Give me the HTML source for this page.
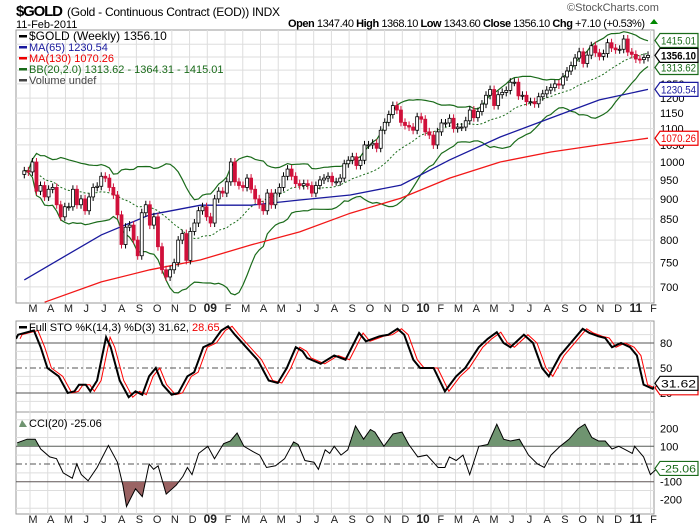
<!DOCTYPE html>
<html><head><meta charset="utf-8"><style>
body{margin:0;background:#fff;}
svg{display:block;font-family:"Liberation Sans",sans-serif;}
</style></head><body>
<svg id="c" width="700" height="530">
<text x="16" y="16" font-size="15" font-weight="bold" textLength="47">$GOLD</text>
<text x="67" y="16" font-size="12" textLength="213">(Gold - Continuous Contract (EOD)) INDX</text>
<text x="16" y="28" font-size="11">11-Feb-2011</text>
<text x="567" y="11" font-size="11" fill="#555">©StockCharts.com</text>
<text x="288" y="27" font-size="11" textLength="357"><tspan font-weight="bold">Open</tspan> 1347.40 <tspan font-weight="bold">High</tspan> 1368.10 <tspan font-weight="bold">Low</tspan> 1343.60 <tspan font-weight="bold">Close</tspan> 1356.10 <tspan font-weight="bold">Chg</tspan> +7.10 (+0.53%)</text>
<path d="M650 24 L654 19 L658 24 Z" fill="#080"/>
<g id="g"></g>
</svg>
<script>
const closes=[975,972,1000,920,935,905,925,930,885,855,880,880,925,885,900,870,905,930,933,960,955,930,910,860,790,830,835,800,765,865,885,835,855,785,735,720,735,750,800,815,755,820,840,870,
880,855,840,900,920,915,945,1000,945,935,930,955,925,900,885,870,915,885,915,930,960,980,960,940,935,940,935,915,935,950,955,960,945,945,955,995,1005,1015,990,1005,1050,1050,1055,1040,1095,1120,1145,1175,1160,1120,1110,1105,
1095,1138,1130,1090,1080,1050,1090,1118,1118,1133,1100,1105,1105,1125,1160,1135,1155,1180,1210,1230,1175,1212,1220,1227,1256,1256,1208,1210,1188,1188,1181,1205,1215,1228,1237,1250,1246,1275,1297,1317,1346,1370,1325,1357,1394,1366,1352,1363,1406,1385,1378,1380,1421,
1369,1360,1342,1340,1348,1356.1];
const ma65Week=[0,19,31,43.5,56,68,80.5,93,105,117.5,130,142,154];
const ma65Val=[714,812,860,884,884,897,910,936,1006,1074,1134,1194,1230.5];
const ma130Week=[5,19,31,43.5,56,68,80.5,93,105,117.5,130,142,154];
const ma130Val=[670,710,735,756,789,819,864,902,955,1000,1029,1050,1070.3];
const monthLabels=["M","A","M","J","J","A","S","O","N","D","09","F","M","A","M","J","J","A","S","O","N","D","10","F","M","A","M","J","J","A","S","O","N","D","11","F"];
const priceTicks=[700,750,800,850,900,950,1000,1050,1100,1150,1200,1250];
const stoZx=[0,40,75,90,105,130,150,165,175,190,200,215,235,245,265,285,300,315,330,345,360,380,395,415,430,450,470,490,505,520,550,570,595,615,635,655,670,680,710,740,765,795,810,840,860,880,895,915,930,960,985,1010,1030,1060,1080,1100,1115,1130,1160,1180,1200,1215,1240,1290,1305,1325,1340,1355,1375,1395,1410,1425,1445,1455];
const stoK=[85,90,95,75,50,40,20,22,30,30,22,35,87,75,35,15,22,18,40,50,30,18,20,40,45,75,80,95,100,90,72,60,35,32,50,75,70,62,55,65,60,92,82,88,90,97,90,60,50,50,22,40,50,75,85,93,80,75,90,80,50,40,65,97,92,88,86,75,80,75,65,30,25,31.6];
const cciZx=[38,60,78,90,110,125,140,160,170,180,195,215,240,260,272,280,300,315,330,340,350,368,390,405,415,425,440,460,475,495,510,525,540,560,575,590,610,630,650,660,675,695,705,720,730,740,755,770,787,805,820,830,850,870,890,905,925,945,970,985,995,1010,1025,1040,1060,1080,1100,1115,1130,1150,1170,1190,1205,1220,1240,1260,1280,1295,1310,1325,1340,1355,1370,1385,1400,1405,1425,1440,1455];
const cciVal=[120,140,140,85,40,30,-50,-80,0,-60,-95,-20,105,10,-120,-240,-140,-185,0,-30,-10,-170,-120,-70,-20,-60,60,100,30,115,130,175,100,70,50,-20,-10,30,125,110,20,10,-30,80,60,100,50,80,215,140,195,180,100,170,180,110,40,50,-20,-20,40,20,50,-60,100,110,225,140,130,140,50,0,-20,50,100,140,200,225,150,130,130,85,100,80,60,100,40,-60,-25];

const NS='http://www.w3.org/2000/svg';
const G=document.getElementById('g');
function el(tag,attrs,parent){const e=document.createElementNS(NS,tag);for(const k in attrs)e.setAttribute(k,attrs[k]);(parent||G).appendChild(e);return e;}
const L=16,R=654;
const N=closes.length;
const xw=w=>648-(N-1-w)*4.05;
const xz=zx=>Math.max(L,zx/2.214);
const py=p=>162-350*Math.log(p/1000);
const sy=v=>393-(v-20)*50/60;
const cy=v=>464-v*0.177;
const mx=m=>33+17.73*m;

const panels=[[30,303,'price-panel'],[321,412,'sto-panel'],[412,514,'cci-panel']];
panels.forEach(p=>{const r=el('rect',{x:L,y:p[0],width:R-L,height:p[1]-p[0],fill:'#fff',stroke:'#999'});});
monthLabels.forEach((m,i)=>{const x=mx(i)-3;panels.forEach(p=>{const l=el('line',{x1:x,x2:x,y1:p[0],y2:p[1],stroke:'#ddd'});});
 [312,523].forEach(y=>{const t=el('text',{x:mx(i),y:y,'font-size':(m.length>1?12:11),'font-weight':(m.length>1?'bold':'normal'),'text-anchor':'middle',fill:'#222'});t.textContent=m;});});
priceTicks.concat([1300,1350,1400]).forEach(p=>{const l=el('line',{x1:L,x2:R,y1:py(p),y2:py(p),stroke:'#ddd'});});
priceTicks.forEach(p=>{const t=el('text',{x:660,y:py(p)+4,'font-size':11});t.textContent=p;});
for(let v=10;v<100;v+=10){if(v==20||v==50||v==80)continue;const l=el('line',{x1:L,x2:R,y1:sy(v),y2:sy(v),stroke:'#ddd'});}
[[20,'solid'],[80,'solid'],[50,'dash']].forEach(a=>{const l=el('line',{x1:L,x2:R,y1:sy(a[0]),y2:sy(a[0]),stroke:'#555','stroke-dasharray':a[1]=='dash'?'6,3,2,3':'none'});const t=el('text',{x:660,y:sy(a[0])+4,'font-size':11});t.textContent=a[0];});
for(let v=-250;v<=250;v+=50){if(v%100==0)continue;const l=el('line',{x1:L,x2:R,y1:cy(v),y2:cy(v),stroke:'#ddd'});}
[[100,'solid'],[-100,'solid'],[0,'dash']].forEach(a=>{const l=el('line',{x1:L,x2:R,y1:cy(a[0]),y2:cy(a[0]),stroke:'#555','stroke-dasharray':a[1]=='dash'?'6,3,2,3':'none'});});
[200,100,-100,-200].forEach(v=>{const t=el('text',{x:660,y:cy(v)+4,'font-size':11});t.textContent=v;});

const defs=el('defs',{});
const cp=el('clipPath',{id:'cm'},defs);el('rect',{x:L,y:30,width:R-L,height:273},cp);
const cs=el('clipPath',{id:'cs'},defs);el('rect',{x:L,y:321,width:R-L,height:91},cs);
const ca=el('clipPath',{id:'ca'},defs);el('rect',{x:L,y:412,width:R-L,height:cy(100)-412},ca);
const cb=el('clipPath',{id:'cb'},defs);el('rect',{x:L,y:cy(-100),width:R-L,height:514-cy(-100)},cb);
const MG=el('g',{'clip-path':'url(#cm)'});

const mid=[],up=[],lo=[];
for(let i=0;i<N;i++){const s=closes.slice(Math.max(0,i-19),i+1);const m=s.reduce((a,b)=>a+b,0)/s.length;const sd=Math.sqrt(s.reduce((a,b)=>a+(b-m)*(b-m),0)/s.length);mid.push(m);up.push(m+2*sd);lo.push(m-2*sd);}
function poly(arr,name,attrs){const d=arr.map((v,i)=>(i?'L':'M')+xw(i).toFixed(1)+' '+py(v).toFixed(1)).join(' ');const p=el('path',Object.assign({d:d,fill:'none'},attrs),MG);}
poly(up,'bb-upper',{stroke:'#1a6b1a','stroke-width':1.2});
poly(lo,'bb-lower',{stroke:'#1a6b1a','stroke-width':1.2});
poly(mid,'bb-middle',{stroke:'#1a6b1a','stroke-dasharray':'2,2'});
function wline(ws,vs,name,color){const d=ws.map((w,i)=>(i?'L':'M')+xw(w).toFixed(1)+' '+py(vs[i]).toFixed(1)).join(' ');const p=el('path',{d:d,fill:'none',stroke:color,'stroke-width':1.3},MG);}
wline(ma65Week,ma65Val,'ma65-line','#1a1a9e');
wline(ma130Week,ma130Val,'ma130-line','#f21818');
for(let i=0;i<N;i++){const c=closes[i],o=i?closes[i-1]:c*0.99;const x=xw(i);const hi=Math.max(o,c),lw=Math.min(o,c);const down=c<o;const col=down?'#d0103a':'#000';
 const w=el('line',{x1:x,x2:x,y1:py(hi)-4,y2:py(lw)+4,stroke:col},MG);
 const b=el('rect',{x:x-1.5,y:py(hi),width:3,height:Math.max(1,py(lw)-py(hi)),fill:down?col:'#fff',stroke:col,'stroke-width':0.8},MG);}

function zline(zxs,vs,f,name,attrs,dx){const d=zxs.map((z,i)=>(i?'L':'M')+(xz(z)+(dx||0)).toFixed(1)+' '+f(vs[i]).toFixed(1)).join(' ');const p=el('path',Object.assign({d:d,fill:'none'},attrs));return d;}
zline(stoZx,stoK,sy,'sto-d-line',{stroke:'#f00','stroke-width':1,'clip-path':'url(#cs)'},4);
zline(stoZx,stoK,sy,'sto-k-line',{stroke:'#000','stroke-width':2,'clip-path':'url(#cs)'});
const cd=cciZx.map((z,i)=>(i?'L':'M')+xz(z).toFixed(1)+' '+cy(cciVal[i]).toFixed(1)).join(' ');
const x0=xz(cciZx[0]),x1=xz(cciZx[cciZx.length-1]);
const fa=el('path',{d:cd+' L'+x1+' '+cy(100)+' L'+x0+' '+cy(100)+' Z',fill:'#6f9470','clip-path':'url(#ca)'});
const fb=el('path',{d:cd+' L'+x1+' '+cy(-100)+' L'+x0+' '+cy(-100)+' Z',fill:'#9a6363','clip-path':'url(#cb)'});
zline(cciZx,cciVal,cy,'cci-line',{stroke:'#000','stroke-width':1});

function tag(y,txt,col,bold,name){const g=el('g',{});
 el('path',{d:`M655 ${y} L660 ${y-7} L698 ${y-7} L698 ${y+7} L660 ${y+7} Z`,fill:'#fff',stroke:col,'stroke-width':1.2},g);
 if(txt){const t=el('text',{x:661,y:y+4,'font-size':11,fill:bold?'#000':col,'font-weight':bold?'bold':'normal',textLength:35,lengthAdjust:'spacingAndGlyphs'},g);t.textContent=txt;}}
tag(py(1415.01),'1415.01','#1a6b1a',false,'bb-upper-tag');
tag(py(1313.62)+1,'1313.62','#1a6b1a',false,'bb-lower-tag');
tag(py(1356.1),'1356.10','#000',true,'last-price-tag');
tag(py(1230.54),'1230.54','#1a1a9e',false,'ma65-tag');
tag(py(1070.26),'1070.26','#e00',false,'ma130-tag');
tag(sy(28.65)+2,'','#e00',false,'sto-d-tag');
tag(sy(31.62),'31.62','#000',false,'sto-k-tag');
tag(cy(-25.06),'-25.06','#1a6b1a',false,'cci-tag');

const leg=[['#000','$GOLD (Weekly) 1356.10',"legend-price"],['#1a1a9e','MA(65) 1230.54','legend-ma65'],['#e00','MA(130) 1070.26','legend-ma130'],['#1a6b1a','BB(20,2.0) 1313.62 - 1364.31 - 1415.01','legend-bb'],['#444','Volume undef','legend-volume']];
leg.forEach((l,i)=>{const y=40+i*11;const t=el('text',{x:29,y:y,'font-size':(i==0?12:11),fill:l[0]});t.textContent=l[1];
 el('rect',{x:19,y:y-5,width:8,height:2.5,fill:l[0]});});
const st=el('text',{x:29,y:331,'font-size':11});st.innerHTML='Full STO %K(14,3) %D(3) 31.62, <tspan fill="#e00">28.65</tspan>';
el('rect',{x:19,y:326,width:8,height:2.5,fill:'#000'});
const ct=el('text',{x:29,y:427,'font-size':11});ct.textContent='CCI(20) -25.06';
el('path',{d:'M19 427 L22 420 L25 424 L27 427 Z',fill:'#6f9470'});
</script>
</body></html>
